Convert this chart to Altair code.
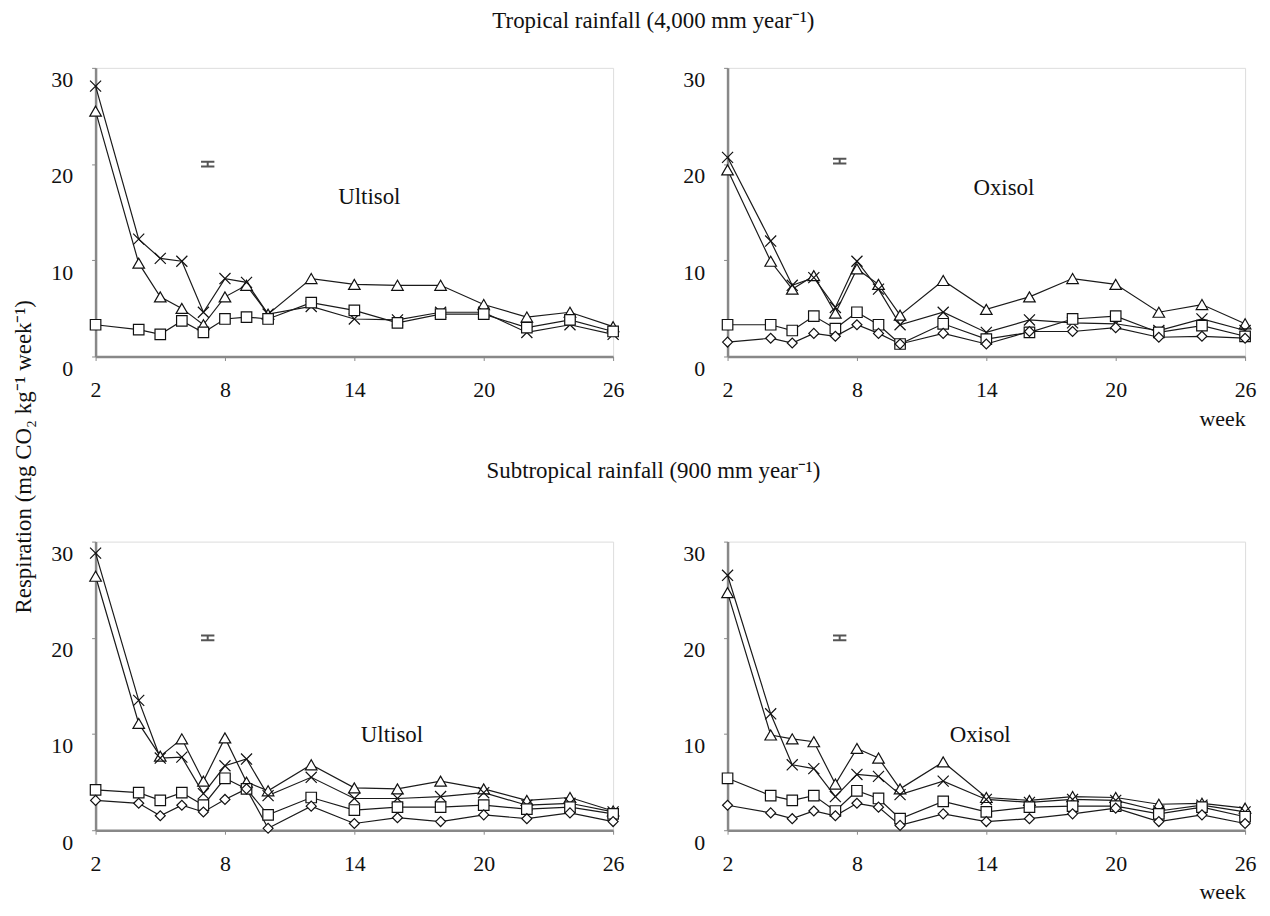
import altair as alt
import pandas as pd

SERIF = "Liberation Serif"

weeks = [2, 4, 5, 6, 7, 8, 9, 10, 12, 14, 16, 18, 20, 22, 24, 26]
series_names = ["triangle", "cross", "square", "diamond"]

# Tropical rainfall - Ultisol
tl_triangle = [25.5, 9.7, 6.2, 5.0, 3.3, 6.2, 7.4, 4.4, 8.1, 7.5, 7.4, 7.4, 5.4, 4.1, 4.6, 3.1]
tl_cross = [28.1, 12.2, 10.2, 9.9, 4.6, 8.1, 7.7, 4.4, 5.2, 3.9, 3.8, 4.6, 4.6, 2.5, 3.3, 2.3]
tl_square = [3.3, 2.8, 2.3, 3.7, 2.5, 3.9, 4.1, 3.9, 5.6, 4.8, 3.5, 4.4, 4.4, 3.0, 3.8, 2.6]
tl_diamond = []

# Tropical rainfall - Oxisol
tr_triangle = [19.4, 9.9, 7.0, 8.4, 4.5, 9.1, 7.5, 4.3, 7.9, 4.9, 6.2, 8.1, 7.5, 4.6, 5.4, 3.4]
tr_cross = [20.7, 12.0, 7.4, 8.2, 5.1, 9.9, 7.0, 3.3, 4.6, 2.5, 3.8, 3.5, 3.4, 2.7, 3.9, 2.7]
tr_square = [3.3, 3.3, 2.7, 4.2, 2.9, 4.6, 3.3, 1.3, 3.4, 1.8, 2.5, 3.9, 4.2, 2.5, 3.2, 2.1]
tr_diamond = [1.5, 1.9, 1.4, 2.4, 2.1, 3.3, 2.4, 1.3, 2.4, 1.3, 2.6, 2.6, 3.0, 2.0, 2.1, 1.9]

# Subtropical rainfall - Ultisol
bl_triangle = [26.4, 11.1, 7.7, 9.5, 5.1, 9.6, 5.0, 4.1, 6.8, 4.4, 4.3, 5.1, 4.3, 3.1, 3.4, 2.0]
bl_cross = [28.8, 13.5, 7.5, 7.6, 3.8, 6.7, 7.4, 3.6, 5.5, 3.3, 3.3, 3.5, 3.9, 2.6, 2.8, 1.9]
bl_square = [4.2, 3.9, 3.1, 3.9, 2.6, 5.4, 4.3, 1.6, 3.4, 2.1, 2.4, 2.4, 2.6, 2.2, 2.4, 1.7]
bl_diamond = [3.1, 2.8, 1.5, 2.6, 1.9, 3.2, 4.3, 0.2, 2.5, 0.7, 1.3, 0.9, 1.6, 1.2, 1.8, 0.9]

# Subtropical rainfall - Oxisol
br_triangle = [24.7, 9.9, 9.5, 9.2, 4.8, 8.5, 7.5, 4.3, 7.1, 3.4, 3.1, 3.5, 3.4, 2.7, 2.8, 2.3]
br_cross = [26.5, 12.1, 6.8, 6.4, 3.5, 5.8, 5.6, 3.7, 5.1, 3.2, 2.9, 3.2, 3.1, 2.0, 2.6, 1.9]
br_square = [5.4, 3.6, 3.1, 3.6, 2.0, 4.1, 3.3, 1.2, 3.0, 1.9, 2.4, 2.5, 2.5, 1.7, 2.4, 1.4]
br_diamond = [2.6, 1.8, 1.2, 2.0, 1.5, 2.8, 2.4, 0.5, 1.7, 0.9, 1.2, 1.7, 2.3, 0.9, 1.6, 0.7]

soil_labels = ["Ultisol", "Oxisol", "Ultisol", "Oxisol"]
label_weeks = [13.25, 13.4, 14.3, 12.3]
label_values = [16.6, 17.5, 9.9, 9.9]

errbar_weeks = [7.2, 7.2, 7.2, 7.2]
errbar_values = [20.0, 20.3, 20.0, 20.0]

row_titles = ["Tropical rainfall (4,000 mm year\u207b\u00b9)",
              "Subtropical rainfall (900 mm year\u207b\u00b9)"]
y_title = "Respiration (mg CO\u2082 kg\u207b\u00b9 week\u207b\u00b9)"
x_ticks = [2, 8, 14, 20, 26]
y_ticks = [0, 10, 20, 30]

shape_range = ["triangle-up", "M-1,-1L1,1M-1,1L1,-1", "square", "diamond"]
size_range = [135, 100, 120, 60]

W, H = 520, 290
FS = 22


def panel(series_lists, idx, show_week):
    rows = []
    for name, vals in zip(series_names, series_lists):
        for w, v in zip(weeks, vals):
            rows.append({"week": w, "value": v, "series": name})
    df = pd.DataFrame(rows)

    x_axis = alt.Axis(values=x_ticks, labelFont=SERIF, labelFontSize=FS, labelPadding=19,
                      tickSize=4, tickColor="#888", domainColor="#888", domainWidth=2.5,
                      grid=False, labelColor="#111", labelFlush=False,
                      title="week" if show_week else None,
                      titleFont=SERIF, titleFontSize=FS, titleFontWeight="normal",
                      titleAnchor="end", titlePadding=8, titleColor="#111")
    y_axis = alt.Axis(values=y_ticks, labelFont=SERIF, labelFontSize=FS, labelPadding=19,
                      labelOffset=12, tickSize=4, tickColor="#888", domainColor="#888",
                      domainWidth=2.5, grid=False, title=None, labelColor="#111")
    xs = alt.Scale(domain=[2, 26], nice=False, zero=False)
    ys = alt.Scale(domain=[0, 30], nice=False)

    base = alt.Chart(df).encode(
        x=alt.X("week:Q", scale=xs, axis=x_axis),
        y=alt.Y("value:Q", scale=ys, axis=y_axis),
    )
    lines = base.mark_line(color="#1a1a1a", strokeWidth=1.2).encode(
        detail="series:N", order="week:Q")
    pts = base.mark_point(filled=True, fill="white", stroke="#111", strokeWidth=1.2,
                          opacity=1).encode(
        shape=alt.Shape("series:N", scale=alt.Scale(domain=series_names, range=shape_range),
                        legend=None),
        size=alt.Size("series:N", scale=alt.Scale(domain=series_names, range=size_range),
                      legend=None),
    )
    lab_df = pd.DataFrame({"week": [label_weeks[idx]], "value": [label_values[idx]],
                           "label": [soil_labels[idx]]})
    lab = alt.Chart(lab_df).mark_text(font=SERIF, fontSize=23, align="left",
                                      color="#111").encode(
        x=alt.X("week:Q", scale=xs), y=alt.Y("value:Q", scale=ys), text="label:N")
    eb_df = pd.DataFrame({"week": [errbar_weeks[idx]], "value": [errbar_values[idx]]})
    eb = alt.Chart(eb_df).mark_point(
        shape="M-1,-0.35L1,-0.35M-1,0.35L1,0.35M0,-0.35L0,0.35",
        size=180, filled=False, stroke="#555", strokeWidth=2, opacity=1).encode(
        x=alt.X("week:Q", scale=xs), y=alt.Y("value:Q", scale=ys))
    return alt.layer(lines, pts, lab, eb).properties(width=W, height=H)


tl = panel([tl_triangle, tl_cross, tl_square, tl_diamond], 0, False)
tr = panel([tr_triangle, tr_cross, tr_square, tr_diamond], 1, True)
bl = panel([bl_triangle, bl_cross, bl_square, bl_diamond], 2, False)
br = panel([br_triangle, br_cross, br_square, br_diamond], 3, True)

top = alt.hconcat(tl, tr, spacing=57, title=alt.TitleParams(
    row_titles[0], font=SERIF, fontSize=23, fontWeight="normal", anchor="middle",
    offset=34, color="#111"))
bottom = alt.hconcat(bl, br, spacing=57, title=alt.TitleParams(
    row_titles[1], font=SERIF, fontSize=23, fontWeight="normal", anchor="middle",
    offset=58, color="#111"))

chart = alt.vconcat(top, bottom, spacing=30, title=alt.TitleParams(
    y_title, orient="left", anchor="middle", font=SERIF, fontSize=23,
    fontWeight="normal", offset=14, color="#111")).properties(
    padding={"left": 5, "top": 0, "right": 5, "bottom": 5}).configure_view(
    stroke=None).configure(font=SERIF)

chart.save("out.html", embed_options={"renderer": "svg", "actions": False})
